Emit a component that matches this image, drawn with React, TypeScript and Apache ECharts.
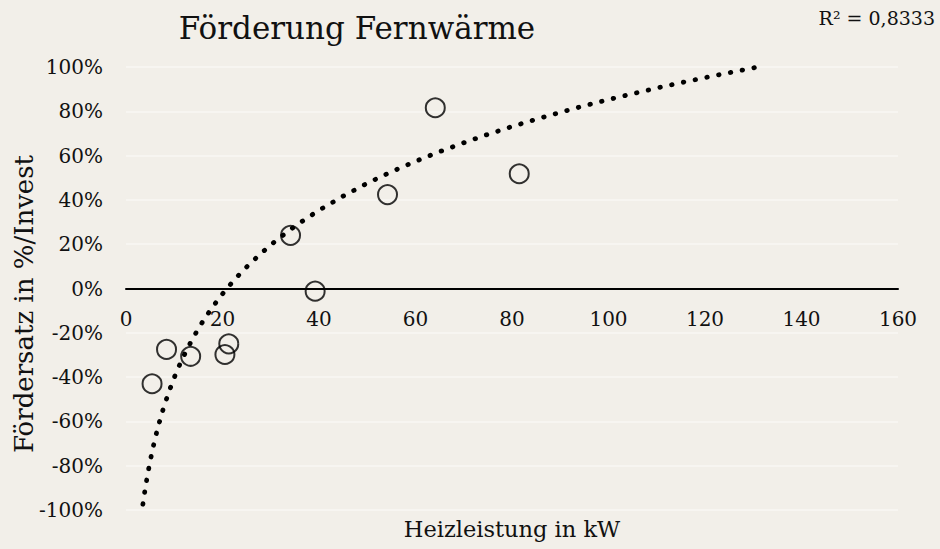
import React, { useEffect, useRef } from "react";
import * as echarts from "echarts";

// Scatter observations (Heizleistung in kW, Fördersatz as fraction)
const heizleistung = [5.4, 8.4, 13.4, 20.5, 21.3, 34.1, 39.2, 54.2, 64.1, 81.5];
const foerdersatz = [-0.43, -0.275, -0.306, -0.298, -0.25, 0.24, -0.012, 0.424, 0.816, 0.518];

// Logarithmic trend line
const trendX = [3.5, 3.75, 4, 4.5, 5, 5.5, 6, 6.5, 7, 7.5, 8, 9, 10, 11, 12, 13.5, 15, 16.5, 18, 19.5, 21, 23, 25, 27.5, 30, 32.5, 35, 37.5, 40, 45, 50, 55, 60, 65, 70, 75, 80, 85, 90, 95, 100, 105, 110, 115, 120, 125, 130.5];
const trendY = [-0.974, -0.937, -0.901, -0.837, -0.78, -0.728, -0.68, -0.637, -0.597, -0.559, -0.524, -0.46, -0.402, -0.35, -0.303, -0.239, -0.181, -0.129, -0.082, -0.038, 0.002, 0.052, 0.097, 0.149, 0.197, 0.24, 0.281, 0.318, 0.353, 0.417, 0.475, 0.527, 0.574, 0.618, 0.658, 0.696, 0.731, 0.764, 0.795, 0.825, 0.853, 0.879, 0.905, 0.929, 0.952, 0.974, 0.998];

const xTicks = { min: 0, max: 160, interval: 20 };
const yTicks = { min: -1, max: 1, interval: 0.2 };

const TITLE = "Förderung Fernwärme";
const X_NAME = "Heizleistung in kW";
const Y_NAME = "Fördersatz in %/Invest";
const R2_TEXT = "R² = 0,8333";

const FONT = "'DejaVu Serif', 'Liberation Serif', serif";
const BG = "#f2efe9";

export default function App() {
  const ref = useRef<HTMLDivElement>(null);
  useEffect(() => {
    document.body.style.margin = "0";
    document.body.style.background = BG;
    if (!ref.current) return;
    const chart = echarts.init(ref.current, undefined, { renderer: "svg" });
    chart.setOption({
      animation: false,
      backgroundColor: BG,
      textStyle: { fontFamily: FONT },
      grid: { left: 126, right: 42, top: 67, bottom: 39, containLabel: false },
      xAxis: {
        type: "value",
        min: xTicks.min,
        max: xTicks.max,
        interval: xTicks.interval,
        offset: -221.5,
        axisLine: { show: true, onZero: false, lineStyle: { color: "#000", width: 2 } },
        axisTick: { show: false },
        splitLine: { show: false },
        axisLabel: { color: "#111", fontSize: 20, fontFamily: FONT, margin: 20 },
        z: 5,
      },
      yAxis: {
        type: "value",
        min: yTicks.min,
        max: yTicks.max,
        interval: yTicks.interval,
        axisLine: { show: false },
        axisTick: { show: false },
        splitLine: { show: true, lineStyle: { color: "#f8f7f3", width: 1.5 } },
        axisLabel: {
          color: "#111",
          fontSize: 20,
          fontFamily: FONT,
          margin: 23,
          formatter: (v: number) => `${Math.round(v * 100)}%`,
        },
      },
      series: [
        {
          type: "line",
          data: trendX.map((x, i) => [x, trendY[i]]),
          showSymbol: false,
          smooth: false,
          lineStyle: { color: "#000", width: 4.8, type: [0.5, 11.5], cap: "round", join: "round" },
          z: 2,
        },
        {
          type: "scatter",
          data: heizleistung.map((x, i) => [x, foerdersatz[i]]),
          symbol: "circle",
          symbolSize: 19,
          itemStyle: { color: "rgba(0,0,0,0)", borderColor: "#000", borderWidth: 2 },
          z: 3,
        },
      ],
      graphic: [
        {
          type: "text",
          position: [357, 28],
          style: {
            text: TITLE,
            fontFamily: FONT,
            fontSize: 31,
            fill: "#111",
            textAlign: "center",
            textVerticalAlign: "middle",
          },
        },
        {
          type: "text",
          position: [935, 18],
          style: {
            text: R2_TEXT,
            fontFamily: FONT,
            fontSize: 19,
            fill: "#111",
            textAlign: "right",
            textVerticalAlign: "middle",
          },
        },
        {
          type: "text",
          position: [512, 529],
          style: {
            text: X_NAME,
            fontFamily: FONT,
            fontSize: 22.5,
            fill: "#111",
            textAlign: "center",
            textVerticalAlign: "middle",
          },
        },
        {
          type: "text",
          position: [24, 304],
          rotation: Math.PI / 2,
          style: {
            text: Y_NAME,
            fontFamily: FONT,
            fontSize: 26,
            fill: "#111",
            textAlign: "center",
            textVerticalAlign: "middle",
          },
        },
      ],
    });
    return () => chart.dispose();
  }, []);
  return <div ref={ref} style={{ width: 940, height: 549, background: BG }} />;
}
